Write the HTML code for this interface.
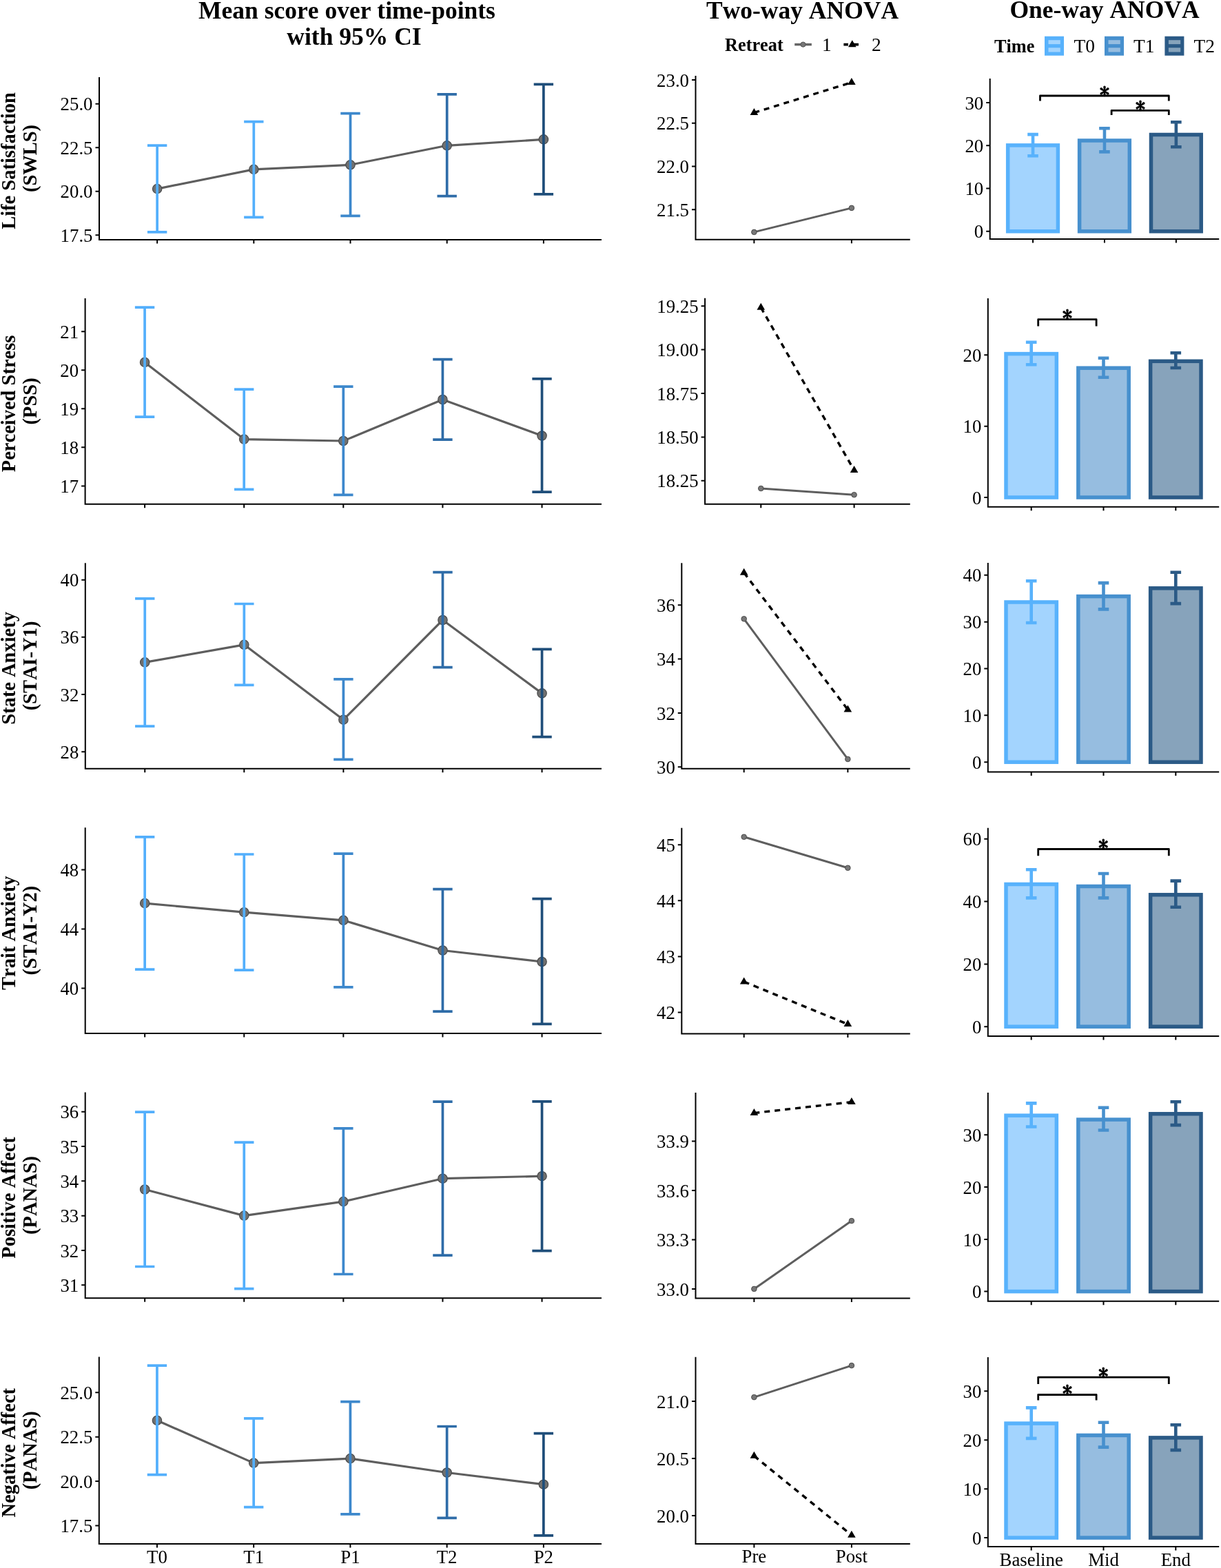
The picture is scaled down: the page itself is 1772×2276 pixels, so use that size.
<!DOCTYPE html>
<html><head><meta charset="utf-8"><title>Figure</title><style>
html,body{margin:0;padding:0;background:#fff;}
body{width:1772px;height:2276px;overflow:hidden;}
svg{display:block;}
text{font-family:"Liberation Serif","Times New Roman",serif;fill:#000;font-kerning:none;font-feature-settings:"kern" 0;}
.tk{font-size:26.8px;}
.hd{font-size:35.5px;font-weight:bold;}
.yt{font-size:28.5px;font-weight:bold;}
.lgt{font-size:26.3px;font-weight:bold;}
.lg{font-size:27.5px;}
.st{font-size:29px;font-weight:bold;font-family:IPAGothic,"Liberation Serif",serif;}
</style></head>
<body>
<svg width="1772" height="2276" viewBox="0 0 1772 2276">
<rect width="100%" height="100%" fill="#fff"/>
<text x="503.5" y="26.8" class="hd" text-anchor="middle">Mean score over time-points</text>
<text x="514" y="64.9" class="hd" text-anchor="middle">with 95% CI</text>
<text x="1164.5" y="26.7" class="hd" text-anchor="middle">Two-way ANOVA</text>
<text x="1603" y="26.3" class="hd" text-anchor="middle">One-way ANOVA</text>
<text x="1052" y="74.4" class="lgt">Retreat</text>
<path d="M1153.2 64.6H1177.9" stroke="#666" stroke-width="3.5"/>
<circle cx="1165.5" cy="64.6" r="3.6" fill="#777" stroke="#555" stroke-width="1"/>
<text x="1193" y="74.4" class="lg">1</text>
<path d="M1224.4 64.6H1231M1236 64.6H1246" stroke="#000" stroke-width="3.6"/>
<path d="M1236.8 58.2L1242.6 68.2H1231Z" fill="#000"/>
<text x="1265" y="74.4" class="lg">2</text>
<text x="1443" y="75.7" class="lgt">Time</text>
<rect x="1516" y="52.7" width="28" height="28" fill="#58B2FC"/>
<rect x="1521.5" y="58.2" width="17.3" height="5.9" fill="#A3D4FE"/>
<rect x="1521.5" y="69.3" width="17.3" height="6.2" fill="#A3D4FE"/>
<rect x="1603" y="52.7" width="28" height="28" fill="#4790CE"/>
<rect x="1608.5" y="58.2" width="17.3" height="5.9" fill="#96BDE0"/>
<rect x="1608.5" y="69.3" width="17.3" height="6.2" fill="#96BDE0"/>
<rect x="1690.4" y="52.7" width="28" height="28" fill="#2B5A86"/>
<rect x="1695.9" y="58.2" width="17.3" height="5.9" fill="#87A3BB"/>
<rect x="1695.9" y="69.3" width="17.3" height="6.2" fill="#87A3BB"/>
<text x="1558.5" y="76.2" class="lg">T0</text>
<text x="1645" y="76.2" class="lg">T1</text>
<text x="1732.5" y="76.2" class="lg">T2</text>
<path d="M144 112V348H873" fill="none" stroke="#000" stroke-width="2.0" stroke-linejoin="miter"/>
<path d="M138.5 150.7H144M138.5 214.2H144M138.5 277.7H144M138.5 341.2H144M228.12 348V353.5M368.31 348V353.5M508.5 348V353.5M648.69 348V353.5M788.88 348V353.5" stroke="#000" stroke-width="2.0"/>
<text x="134.5" y="160.3" class="tk" text-anchor="end">25.0</text>
<text x="134.5" y="223.8" class="tk" text-anchor="end">22.5</text>
<text x="134.5" y="287.3" class="tk" text-anchor="end">20.0</text>
<text x="134.5" y="350.8" class="tk" text-anchor="end">17.5</text>
<text transform="translate(22,233.5) rotate(-90)" class="yt" text-anchor="middle">Life Satisfaction</text>
<text transform="translate(52.5,230) rotate(-90)" class="yt" text-anchor="middle">(SWLS)</text>
<polyline points="228.12,274.1 368.31,245.9 508.5,239.3 648.69,211.3 788.88,202.4" fill="none" stroke="#5e5e5e" stroke-width="3.2" stroke-linejoin="round"/>
<circle cx="228.12" cy="274.1" r="6.7" fill="#707070" stroke="#4a4a4a" stroke-width="1.2"/>
<circle cx="368.31" cy="245.9" r="6.7" fill="#707070" stroke="#4a4a4a" stroke-width="1.2"/>
<circle cx="508.5" cy="239.3" r="6.7" fill="#707070" stroke="#4a4a4a" stroke-width="1.2"/>
<circle cx="648.69" cy="211.3" r="6.7" fill="#707070" stroke="#4a4a4a" stroke-width="1.2"/>
<circle cx="788.88" cy="202.4" r="6.7" fill="#707070" stroke="#4a4a4a" stroke-width="1.2"/>
<path d="M228.12 211.1V336.9M213.92 211.1H242.32M213.92 336.9H242.32" stroke="#53AFFC" stroke-width="3.7" fill="none"/>
<path d="M368.31 176.7V315.3M354.11 176.7H382.51M354.11 315.3H382.51" stroke="#53AFFC" stroke-width="3.7" fill="none"/>
<path d="M508.5 164.7V313.4M494.3 164.7H522.7M494.3 313.4H522.7" stroke="#3D88CC" stroke-width="3.7" fill="none"/>
<path d="M648.69 136.9V284.7M634.49 136.9H662.89M634.49 284.7H662.89" stroke="#2E6CA8" stroke-width="3.7" fill="none"/>
<path d="M788.88 122.4V281.9M774.68 122.4H803.08M774.68 281.9H803.08" stroke="#1F4E7A" stroke-width="3.7" fill="none"/>
<path d="M123.6 433V731.8H873" fill="none" stroke="#000" stroke-width="2.0" stroke-linejoin="miter"/>
<path d="M118.1 481.2H123.6M118.1 537.3H123.6M118.1 593.3H123.6M118.1 649.3H123.6M118.1 705.4H123.6M210.07 731.8V737.3M354.18 731.8V737.3M498.3 731.8V737.3M642.42 731.8V737.3M786.53 731.8V737.3" stroke="#000" stroke-width="2.0"/>
<text x="114.1" y="490.8" class="tk" text-anchor="end">21</text>
<text x="114.1" y="546.9" class="tk" text-anchor="end">20</text>
<text x="114.1" y="602.9" class="tk" text-anchor="end">19</text>
<text x="114.1" y="658.9" class="tk" text-anchor="end">18</text>
<text x="114.1" y="715" class="tk" text-anchor="end">17</text>
<text transform="translate(22,585.9) rotate(-90)" class="yt" text-anchor="middle">Perceived Stress</text>
<text transform="translate(52.5,582.4) rotate(-90)" class="yt" text-anchor="middle">(PSS)</text>
<polyline points="210.07,525.9 354.18,637.6 498.3,640 642.42,580 786.53,632.5" fill="none" stroke="#5e5e5e" stroke-width="3.2" stroke-linejoin="round"/>
<circle cx="210.07" cy="525.9" r="6.7" fill="#707070" stroke="#4a4a4a" stroke-width="1.2"/>
<circle cx="354.18" cy="637.6" r="6.7" fill="#707070" stroke="#4a4a4a" stroke-width="1.2"/>
<circle cx="498.3" cy="640" r="6.7" fill="#707070" stroke="#4a4a4a" stroke-width="1.2"/>
<circle cx="642.42" cy="580" r="6.7" fill="#707070" stroke="#4a4a4a" stroke-width="1.2"/>
<circle cx="786.53" cy="632.5" r="6.7" fill="#707070" stroke="#4a4a4a" stroke-width="1.2"/>
<path d="M210.07 446.1V605.2M195.87 446.1H224.27M195.87 605.2H224.27" stroke="#53AFFC" stroke-width="3.7" fill="none"/>
<path d="M354.18 565.2V710.4M339.98 565.2H368.38M339.98 710.4H368.38" stroke="#53AFFC" stroke-width="3.7" fill="none"/>
<path d="M498.3 561.2V718.4M484.1 561.2H512.5M484.1 718.4H512.5" stroke="#3D88CC" stroke-width="3.7" fill="none"/>
<path d="M642.42 521.6V638.1M628.22 521.6H656.62M628.22 638.1H656.62" stroke="#2E6CA8" stroke-width="3.7" fill="none"/>
<path d="M786.53 549.9V714.1M772.33 549.9H800.73M772.33 714.1H800.73" stroke="#1F4E7A" stroke-width="3.7" fill="none"/>
<path d="M123.8 817.2V1115.7H873" fill="none" stroke="#000" stroke-width="2.0" stroke-linejoin="miter"/>
<path d="M118.3 841.7H123.8M118.3 924.8H123.8M118.3 1007.9H123.8M118.3 1091.2H123.8M210.25 1115.7V1121.2M354.32 1115.7V1121.2M498.4 1115.7V1121.2M642.48 1115.7V1121.2M786.55 1115.7V1121.2" stroke="#000" stroke-width="2.0"/>
<text x="114.3" y="851.3" class="tk" text-anchor="end">40</text>
<text x="114.3" y="934.4" class="tk" text-anchor="end">36</text>
<text x="114.3" y="1017.5" class="tk" text-anchor="end">32</text>
<text x="114.3" y="1100.8" class="tk" text-anchor="end">28</text>
<text transform="translate(22,969.95) rotate(-90)" class="yt" text-anchor="middle">State Anxiety</text>
<text transform="translate(52.5,966.45) rotate(-90)" class="yt" text-anchor="middle">(STAI-Y1)</text>
<polyline points="210.25,961.4 354.32,935.8 498.4,1044.7 642.48,900 786.55,1006.4" fill="none" stroke="#5e5e5e" stroke-width="3.2" stroke-linejoin="round"/>
<circle cx="210.25" cy="961.4" r="6.7" fill="#707070" stroke="#4a4a4a" stroke-width="1.2"/>
<circle cx="354.32" cy="935.8" r="6.7" fill="#707070" stroke="#4a4a4a" stroke-width="1.2"/>
<circle cx="498.4" cy="1044.7" r="6.7" fill="#707070" stroke="#4a4a4a" stroke-width="1.2"/>
<circle cx="642.48" cy="900" r="6.7" fill="#707070" stroke="#4a4a4a" stroke-width="1.2"/>
<circle cx="786.55" cy="1006.4" r="6.7" fill="#707070" stroke="#4a4a4a" stroke-width="1.2"/>
<path d="M210.25 868.9V1054.1M196.05 868.9H224.45M196.05 1054.1H224.45" stroke="#53AFFC" stroke-width="3.7" fill="none"/>
<path d="M354.32 876.5V994.4M340.12 876.5H368.52M340.12 994.4H368.52" stroke="#53AFFC" stroke-width="3.7" fill="none"/>
<path d="M498.4 985.9V1102.4M484.2 985.9H512.6M484.2 1102.4H512.6" stroke="#3D88CC" stroke-width="3.7" fill="none"/>
<path d="M642.48 830.6V968.7M628.28 830.6H656.68M628.28 968.7H656.68" stroke="#2E6CA8" stroke-width="3.7" fill="none"/>
<path d="M786.55 942.4V1069.6M772.35 942.4H800.75M772.35 1069.6H800.75" stroke="#1F4E7A" stroke-width="3.7" fill="none"/>
<path d="M123.7 1201.3V1500.1H873" fill="none" stroke="#000" stroke-width="2.0" stroke-linejoin="miter"/>
<path d="M118.2 1262.6H123.7M118.2 1348.6H123.7M118.2 1434.4H123.7M210.16 1500.1V1505.6M354.25 1500.1V1505.6M498.35 1500.1V1505.6M642.45 1500.1V1505.6M786.54 1500.1V1505.6" stroke="#000" stroke-width="2.0"/>
<text x="114.2" y="1272.2" class="tk" text-anchor="end">48</text>
<text x="114.2" y="1358.2" class="tk" text-anchor="end">44</text>
<text x="114.2" y="1444" class="tk" text-anchor="end">40</text>
<text transform="translate(22,1354.2) rotate(-90)" class="yt" text-anchor="middle">Trait Anxiety</text>
<text transform="translate(52.5,1350.7) rotate(-90)" class="yt" text-anchor="middle">(STAI-Y2)</text>
<polyline points="210.16,1311.1 354.25,1324.2 498.35,1335.8 642.45,1379.5 786.54,1396" fill="none" stroke="#5e5e5e" stroke-width="3.2" stroke-linejoin="round"/>
<circle cx="210.16" cy="1311.1" r="6.7" fill="#707070" stroke="#4a4a4a" stroke-width="1.2"/>
<circle cx="354.25" cy="1324.2" r="6.7" fill="#707070" stroke="#4a4a4a" stroke-width="1.2"/>
<circle cx="498.35" cy="1335.8" r="6.7" fill="#707070" stroke="#4a4a4a" stroke-width="1.2"/>
<circle cx="642.45" cy="1379.5" r="6.7" fill="#707070" stroke="#4a4a4a" stroke-width="1.2"/>
<circle cx="786.54" cy="1396" r="6.7" fill="#707070" stroke="#4a4a4a" stroke-width="1.2"/>
<path d="M210.16 1214.8V1407.1M195.96 1214.8H224.36M195.96 1407.1H224.36" stroke="#53AFFC" stroke-width="3.7" fill="none"/>
<path d="M354.25 1240V1408.2M340.05 1240H368.45M340.05 1408.2H368.45" stroke="#53AFFC" stroke-width="3.7" fill="none"/>
<path d="M498.35 1239.1V1432.9M484.15 1239.1H512.55M484.15 1432.9H512.55" stroke="#3D88CC" stroke-width="3.7" fill="none"/>
<path d="M642.45 1290.6V1468.2M628.25 1290.6H656.65M628.25 1468.2H656.65" stroke="#2E6CA8" stroke-width="3.7" fill="none"/>
<path d="M786.54 1304.7V1486.4M772.34 1304.7H800.74M772.34 1486.4H800.74" stroke="#1F4E7A" stroke-width="3.7" fill="none"/>
<path d="M123.7 1585.6V1884.3H873" fill="none" stroke="#000" stroke-width="2.0" stroke-linejoin="miter"/>
<path d="M118.2 1613.7H123.7M118.2 1664H123.7M118.2 1714.3H123.7M118.2 1764.7H123.7M118.2 1815H123.7M118.2 1865.3H123.7M210.16 1884.3V1889.8M354.25 1884.3V1889.8M498.35 1884.3V1889.8M642.45 1884.3V1889.8M786.54 1884.3V1889.8" stroke="#000" stroke-width="2.0"/>
<text x="114.2" y="1623.3" class="tk" text-anchor="end">36</text>
<text x="114.2" y="1673.6" class="tk" text-anchor="end">35</text>
<text x="114.2" y="1723.9" class="tk" text-anchor="end">34</text>
<text x="114.2" y="1774.3" class="tk" text-anchor="end">33</text>
<text x="114.2" y="1824.6" class="tk" text-anchor="end">32</text>
<text x="114.2" y="1874.9" class="tk" text-anchor="end">31</text>
<text transform="translate(22,1738.45) rotate(-90)" class="yt" text-anchor="middle">Positive Affect</text>
<text transform="translate(52.5,1734.95) rotate(-90)" class="yt" text-anchor="middle">(PANAS)</text>
<polyline points="210.16,1726.5 354.25,1764.6 498.35,1744.1 642.45,1710.7 786.54,1707.2" fill="none" stroke="#5e5e5e" stroke-width="3.2" stroke-linejoin="round"/>
<circle cx="210.16" cy="1726.5" r="6.7" fill="#707070" stroke="#4a4a4a" stroke-width="1.2"/>
<circle cx="354.25" cy="1764.6" r="6.7" fill="#707070" stroke="#4a4a4a" stroke-width="1.2"/>
<circle cx="498.35" cy="1744.1" r="6.7" fill="#707070" stroke="#4a4a4a" stroke-width="1.2"/>
<circle cx="642.45" cy="1710.7" r="6.7" fill="#707070" stroke="#4a4a4a" stroke-width="1.2"/>
<circle cx="786.54" cy="1707.2" r="6.7" fill="#707070" stroke="#4a4a4a" stroke-width="1.2"/>
<path d="M210.16 1614.2V1838.5M195.96 1614.2H224.36M195.96 1838.5H224.36" stroke="#53AFFC" stroke-width="3.7" fill="none"/>
<path d="M354.25 1658.2V1870.7M340.05 1658.2H368.45M340.05 1870.7H368.45" stroke="#53AFFC" stroke-width="3.7" fill="none"/>
<path d="M498.35 1637.8V1849.5M484.15 1637.8H512.55M484.15 1849.5H512.55" stroke="#3D88CC" stroke-width="3.7" fill="none"/>
<path d="M642.45 1599.2V1822.2M628.25 1599.2H656.65M628.25 1822.2H656.65" stroke="#2E6CA8" stroke-width="3.7" fill="none"/>
<path d="M786.54 1598.9V1815.6M772.34 1598.9H800.74M772.34 1815.6H800.74" stroke="#1F4E7A" stroke-width="3.7" fill="none"/>
<path d="M143.8 1969.4V2241H873" fill="none" stroke="#000" stroke-width="2.0" stroke-linejoin="miter"/>
<path d="M138.3 2021.3H143.8M138.3 2085.7H143.8M138.3 2150.1H143.8M138.3 2214.5H143.8M227.94 2241V2246.5M368.17 2241V2246.5M508.4 2241V2246.5M648.63 2241V2246.5M788.86 2241V2246.5" stroke="#000" stroke-width="2.0"/>
<text x="134.3" y="2030.9" class="tk" text-anchor="end">25.0</text>
<text x="134.3" y="2095.3" class="tk" text-anchor="end">22.5</text>
<text x="134.3" y="2159.7" class="tk" text-anchor="end">20.0</text>
<text x="134.3" y="2224.1" class="tk" text-anchor="end">17.5</text>
<text transform="translate(22,2108.7) rotate(-90)" class="yt" text-anchor="middle">Negative Affect</text>
<text transform="translate(52.5,2105.2) rotate(-90)" class="yt" text-anchor="middle">(PANAS)</text>
<polyline points="227.94,2061.8 368.17,2123.6 508.4,2117.1 648.63,2137.5 788.86,2154.7" fill="none" stroke="#5e5e5e" stroke-width="3.2" stroke-linejoin="round"/>
<circle cx="227.94" cy="2061.8" r="6.7" fill="#707070" stroke="#4a4a4a" stroke-width="1.2"/>
<circle cx="368.17" cy="2123.6" r="6.7" fill="#707070" stroke="#4a4a4a" stroke-width="1.2"/>
<circle cx="508.4" cy="2117.1" r="6.7" fill="#707070" stroke="#4a4a4a" stroke-width="1.2"/>
<circle cx="648.63" cy="2137.5" r="6.7" fill="#707070" stroke="#4a4a4a" stroke-width="1.2"/>
<circle cx="788.86" cy="2154.7" r="6.7" fill="#707070" stroke="#4a4a4a" stroke-width="1.2"/>
<path d="M227.94 1982.2V2140.6M213.74 1982.2H242.14M213.74 2140.6H242.14" stroke="#53AFFC" stroke-width="3.7" fill="none"/>
<path d="M368.17 2058.9V2187.6M353.97 2058.9H382.37M353.97 2187.6H382.37" stroke="#53AFFC" stroke-width="3.7" fill="none"/>
<path d="M508.4 2034.7V2197.8M494.2 2034.7H522.6M494.2 2197.8H522.6" stroke="#3D88CC" stroke-width="3.7" fill="none"/>
<path d="M648.63 2070.5V2203.4M634.43 2070.5H662.83M634.43 2203.4H662.83" stroke="#2E6CA8" stroke-width="3.7" fill="none"/>
<path d="M788.86 2080.6V2228.8M774.66 2080.6H803.06M774.66 2228.8H803.06" stroke="#1F4E7A" stroke-width="3.7" fill="none"/>
<text x="227.94" y="2268.6" class="tk" text-anchor="middle">T0</text>
<text x="368.17" y="2268.6" class="tk" text-anchor="middle">T1</text>
<text x="508.4" y="2268.6" class="tk" text-anchor="middle">P1</text>
<text x="648.63" y="2268.6" class="tk" text-anchor="middle">T2</text>
<text x="788.86" y="2268.6" class="tk" text-anchor="middle">P2</text>
<path d="M1009.5 110V347.8H1320.8" fill="none" stroke="#000" stroke-width="2.0" stroke-linejoin="miter"/>
<path d="M1004 116.1H1009.5M1004 178.8H1009.5M1004 241.5H1009.5M1004 304.2H1009.5M1094.4 347.8V353.3M1235.9 347.8V353.3" stroke="#000" stroke-width="2.0"/>
<text x="1000" y="125.7" class="tk" text-anchor="end">23.0</text>
<text x="1000" y="188.4" class="tk" text-anchor="end">22.5</text>
<text x="1000" y="251.1" class="tk" text-anchor="end">22.0</text>
<text x="1000" y="313.8" class="tk" text-anchor="end">21.5</text>
<path d="M1094.4 336.9L1235.9 301.9" stroke="#5e5e5e" stroke-width="3"/>
<path d="M1094.4 163.6L1235.9 119.6" stroke="#000" stroke-width="3.4" stroke-dasharray="8 7"/>
<circle cx="1094.4" cy="336.9" r="3.8" fill="#777" stroke="#4a4a4a" stroke-width="1"/>
<circle cx="1235.9" cy="301.9" r="3.8" fill="#777" stroke="#4a4a4a" stroke-width="1"/>
<path d="M1094.4 157L1100.2 167H1088.6Z" fill="#000"/>
<path d="M1235.9 113L1241.7 123H1230.1Z" fill="#000"/>
<path d="M1023.1 432.8V731.8H1320.8" fill="none" stroke="#000" stroke-width="2.0" stroke-linejoin="miter"/>
<path d="M1017.6 444.2H1023.1M1017.6 507.6H1023.1M1017.6 571H1023.1M1017.6 634.4H1023.1M1017.6 697.8H1023.1M1104.29 731.8V737.3M1239.61 731.8V737.3" stroke="#000" stroke-width="2.0"/>
<text x="1013.6" y="453.8" class="tk" text-anchor="end">19.25</text>
<text x="1013.6" y="517.2" class="tk" text-anchor="end">19.00</text>
<text x="1013.6" y="580.6" class="tk" text-anchor="end">18.75</text>
<text x="1013.6" y="644" class="tk" text-anchor="end">18.50</text>
<text x="1013.6" y="707.4" class="tk" text-anchor="end">18.25</text>
<path d="M1104.29 709L1239.61 718.2" stroke="#5e5e5e" stroke-width="3"/>
<path d="M1104.29 446.4L1239.61 682.7" stroke="#000" stroke-width="3.4" stroke-dasharray="8 7"/>
<circle cx="1104.29" cy="709" r="3.8" fill="#777" stroke="#4a4a4a" stroke-width="1"/>
<circle cx="1239.61" cy="718.2" r="3.8" fill="#777" stroke="#4a4a4a" stroke-width="1"/>
<path d="M1104.29 439.8L1110.09 449.8H1098.49Z" fill="#000"/>
<path d="M1239.61 676.1L1245.41 686.1H1233.81Z" fill="#000"/>
<path d="M989.3 817.3V1115.7H1320.8" fill="none" stroke="#000" stroke-width="2.0" stroke-linejoin="miter"/>
<path d="M983.8 878.3H989.3M983.8 956.6H989.3M983.8 1034.9H989.3M983.8 1113.2H989.3M1079.71 1115.7V1121.2M1230.39 1115.7V1121.2" stroke="#000" stroke-width="2.0"/>
<text x="979.8" y="887.9" class="tk" text-anchor="end">36</text>
<text x="979.8" y="966.2" class="tk" text-anchor="end">34</text>
<text x="979.8" y="1044.5" class="tk" text-anchor="end">32</text>
<text x="979.8" y="1122.8" class="tk" text-anchor="end">30</text>
<path d="M1079.71 898.3L1230.39 1101.9" stroke="#5e5e5e" stroke-width="3"/>
<path d="M1079.71 831.3L1230.39 1030.1" stroke="#000" stroke-width="3.4" stroke-dasharray="8 7"/>
<circle cx="1079.71" cy="898.3" r="3.8" fill="#777" stroke="#4a4a4a" stroke-width="1"/>
<circle cx="1230.39" cy="1101.9" r="3.8" fill="#777" stroke="#4a4a4a" stroke-width="1"/>
<path d="M1079.71 824.7L1085.51 834.7H1073.91Z" fill="#000"/>
<path d="M1230.39 1023.5L1236.19 1033.5H1224.59Z" fill="#000"/>
<path d="M989.3 1201.7V1500.4H1320.8" fill="none" stroke="#000" stroke-width="2.0" stroke-linejoin="miter"/>
<path d="M983.8 1226.2H989.3M983.8 1307.3H989.3M983.8 1388.4H989.3M983.8 1469.5H989.3M1079.71 1500.4V1505.9M1230.39 1500.4V1505.9" stroke="#000" stroke-width="2.0"/>
<text x="979.8" y="1235.8" class="tk" text-anchor="end">45</text>
<text x="979.8" y="1316.9" class="tk" text-anchor="end">44</text>
<text x="979.8" y="1398" class="tk" text-anchor="end">43</text>
<text x="979.8" y="1479.1" class="tk" text-anchor="end">42</text>
<path d="M1079.71 1214.8L1230.39 1259.8" stroke="#5e5e5e" stroke-width="3"/>
<path d="M1079.71 1425L1230.39 1486.7" stroke="#000" stroke-width="3.4" stroke-dasharray="8 7"/>
<circle cx="1079.71" cy="1214.8" r="3.8" fill="#777" stroke="#4a4a4a" stroke-width="1"/>
<circle cx="1230.39" cy="1259.8" r="3.8" fill="#777" stroke="#4a4a4a" stroke-width="1"/>
<path d="M1079.71 1418.4L1085.51 1428.4H1073.91Z" fill="#000"/>
<path d="M1230.39 1480.1L1236.19 1490.1H1224.59Z" fill="#000"/>
<path d="M1009.5 1586V1884.5H1320.8" fill="none" stroke="#000" stroke-width="2.0" stroke-linejoin="miter"/>
<path d="M1004 1656.5H1009.5M1004 1728H1009.5M1004 1799.4H1009.5M1004 1870.9H1009.5M1094.4 1884.5V1890M1235.9 1884.5V1890" stroke="#000" stroke-width="2.0"/>
<text x="1000" y="1666.1" class="tk" text-anchor="end">33.9</text>
<text x="1000" y="1737.6" class="tk" text-anchor="end">33.6</text>
<text x="1000" y="1809" class="tk" text-anchor="end">33.3</text>
<text x="1000" y="1880.5" class="tk" text-anchor="end">33.0</text>
<path d="M1094.4 1870.9L1235.9 1772.1" stroke="#5e5e5e" stroke-width="3"/>
<path d="M1094.4 1615.6L1235.9 1599.6" stroke="#000" stroke-width="3.4" stroke-dasharray="8 7"/>
<circle cx="1094.4" cy="1870.9" r="3.8" fill="#777" stroke="#4a4a4a" stroke-width="1"/>
<circle cx="1235.9" cy="1772.1" r="3.8" fill="#777" stroke="#4a4a4a" stroke-width="1"/>
<path d="M1094.4 1609L1100.2 1619H1088.6Z" fill="#000"/>
<path d="M1235.9 1593L1241.7 1603H1230.1Z" fill="#000"/>
<path d="M1009.5 1969.8V2241H1320.8" fill="none" stroke="#000" stroke-width="2.0" stroke-linejoin="miter"/>
<path d="M1004 2034H1009.5M1004 2117H1009.5M1004 2200H1009.5M1094.4 2241V2246.5M1235.9 2241V2246.5" stroke="#000" stroke-width="2.0"/>
<text x="1000" y="2043.6" class="tk" text-anchor="end">21.0</text>
<text x="1000" y="2126.6" class="tk" text-anchor="end">20.5</text>
<text x="1000" y="2209.6" class="tk" text-anchor="end">20.0</text>
<path d="M1094.4 2028.1L1235.9 1982.1" stroke="#5e5e5e" stroke-width="3"/>
<path d="M1094.4 2113.4L1235.9 2228.3" stroke="#000" stroke-width="3.4" stroke-dasharray="8 7"/>
<circle cx="1094.4" cy="2028.1" r="3.8" fill="#777" stroke="#4a4a4a" stroke-width="1"/>
<circle cx="1235.9" cy="1982.1" r="3.8" fill="#777" stroke="#4a4a4a" stroke-width="1"/>
<path d="M1094.4 2106.8L1100.2 2116.8H1088.6Z" fill="#000"/>
<path d="M1235.9 2221.7L1241.7 2231.7H1230.1Z" fill="#000"/>
<text x="1094.4" y="2267.6" class="tk" text-anchor="middle">Pre</text>
<text x="1235.9" y="2267.6" class="tk" text-anchor="middle">Post</text>
<path d="M1436.7 114.1V346.9H1769.2" fill="none" stroke="#000" stroke-width="2.0" stroke-linejoin="miter"/>
<path d="M1431.2 149H1436.7M1431.2 211.3H1436.7M1431.2 273.6H1436.7M1431.2 335.8H1436.7M1499.04 346.9V352.4M1602.95 346.9V352.4M1706.86 346.9V352.4" stroke="#000" stroke-width="2.0"/>
<text x="1427.2" y="158.6" class="tk" text-anchor="end">30</text>
<text x="1427.2" y="220.9" class="tk" text-anchor="end">20</text>
<text x="1427.2" y="283.2" class="tk" text-anchor="end">10</text>
<text x="1427.2" y="345.4" class="tk" text-anchor="end">0</text>
<rect x="1462.68" y="210.9" width="72.73" height="124.9" fill="#A3D4FE" stroke="#58B2FC" stroke-width="5.5"/>
<rect x="1566.58" y="204" width="72.73" height="131.8" fill="#96BDE0" stroke="#4790CE" stroke-width="5.5"/>
<rect x="1670.49" y="195.5" width="72.73" height="140.3" fill="#87A3BB" stroke="#2B5A86" stroke-width="5.5"/>
<path d="M1499.04 195.1V226.3M1491.24 195.1H1506.84M1491.24 226.3H1506.84" stroke="#58B2FC" stroke-width="4.6" fill="none"/>
<path d="M1602.95 186.3V220.4M1595.15 186.3H1610.75M1595.15 220.4H1610.75" stroke="#4790CE" stroke-width="4.6" fill="none"/>
<path d="M1706.86 177.3V213.3M1699.06 177.3H1714.66M1699.06 213.3H1714.66" stroke="#2B5A86" stroke-width="4.6" fill="none"/>
<path d="M1509.5 146.5V139H1696.3V146.5" fill="none" stroke="#000" stroke-width="2.8" stroke-linejoin="round"/>
<text x="1602.9" y="142.5" class="st" text-anchor="middle">*</text>
<path d="M1613.1 167V160.3H1696.3V167" fill="none" stroke="#000" stroke-width="2.8" stroke-linejoin="round"/>
<text x="1655" y="163.8" class="st" text-anchor="middle">*</text>
<path d="M1433.8 433V735.7H1769.2" fill="none" stroke="#000" stroke-width="2.0" stroke-linejoin="miter"/>
<path d="M1428.3 515.3H1433.8M1428.3 618.65H1433.8M1428.3 722H1433.8M1496.69 735.7V741.2M1601.5 735.7V741.2M1706.31 735.7V741.2" stroke="#000" stroke-width="2.0"/>
<text x="1424.3" y="524.9" class="tk" text-anchor="end">20</text>
<text x="1424.3" y="628.25" class="tk" text-anchor="end">10</text>
<text x="1424.3" y="731.6" class="tk" text-anchor="end">0</text>
<rect x="1460" y="513.6" width="73.37" height="208.4" fill="#A3D4FE" stroke="#58B2FC" stroke-width="5.5"/>
<rect x="1564.82" y="534.2" width="73.37" height="187.8" fill="#96BDE0" stroke="#4790CE" stroke-width="5.5"/>
<rect x="1669.63" y="524.3" width="73.37" height="197.7" fill="#87A3BB" stroke="#2B5A86" stroke-width="5.5"/>
<path d="M1496.69 496.8V529.2M1488.89 496.8H1504.49M1488.89 529.2H1504.49" stroke="#58B2FC" stroke-width="4.6" fill="none"/>
<path d="M1601.5 519.8V547.7M1593.7 519.8H1609.3M1593.7 547.7H1609.3" stroke="#4790CE" stroke-width="4.6" fill="none"/>
<path d="M1706.31 512.2V534M1698.51 512.2H1714.11M1698.51 534H1714.11" stroke="#2B5A86" stroke-width="4.6" fill="none"/>
<path d="M1506.7 473.5V463.7H1591.1V473.5" fill="none" stroke="#000" stroke-width="2.8" stroke-linejoin="round"/>
<text x="1549" y="467.2" class="st" text-anchor="middle">*</text>
<path d="M1433.8 817V1120.4H1769.2" fill="none" stroke="#000" stroke-width="2.0" stroke-linejoin="miter"/>
<path d="M1428.3 834.8H1433.8M1428.3 902.65H1433.8M1428.3 970.5H1433.8M1428.3 1038.35H1433.8M1428.3 1106.2H1433.8M1496.69 1120.4V1125.9M1601.5 1120.4V1125.9M1706.31 1120.4V1125.9" stroke="#000" stroke-width="2.0"/>
<text x="1424.3" y="844.4" class="tk" text-anchor="end">40</text>
<text x="1424.3" y="912.25" class="tk" text-anchor="end">30</text>
<text x="1424.3" y="980.1" class="tk" text-anchor="end">20</text>
<text x="1424.3" y="1047.95" class="tk" text-anchor="end">10</text>
<text x="1424.3" y="1115.8" class="tk" text-anchor="end">0</text>
<rect x="1460" y="874" width="73.37" height="232.2" fill="#A3D4FE" stroke="#58B2FC" stroke-width="5.5"/>
<rect x="1564.82" y="865.6" width="73.37" height="240.6" fill="#96BDE0" stroke="#4790CE" stroke-width="5.5"/>
<rect x="1669.63" y="853.8" width="73.37" height="252.4" fill="#87A3BB" stroke="#2B5A86" stroke-width="5.5"/>
<path d="M1496.69 843.3V904M1488.89 843.3H1504.49M1488.89 904H1504.49" stroke="#58B2FC" stroke-width="4.6" fill="none"/>
<path d="M1601.5 846.1V884.4M1593.7 846.1H1609.3M1593.7 884.4H1609.3" stroke="#4790CE" stroke-width="4.6" fill="none"/>
<path d="M1706.31 830.7V876.1M1698.51 830.7H1714.11M1698.51 876.1H1714.11" stroke="#2B5A86" stroke-width="4.6" fill="none"/>
<path d="M1433.8 1201.8V1504H1769.2" fill="none" stroke="#000" stroke-width="2.0" stroke-linejoin="miter"/>
<path d="M1428.3 1217.8H1433.8M1428.3 1308.6H1433.8M1428.3 1399.4H1433.8M1428.3 1490.2H1433.8M1496.69 1504V1509.5M1601.5 1504V1509.5M1706.31 1504V1509.5" stroke="#000" stroke-width="2.0"/>
<text x="1424.3" y="1227.4" class="tk" text-anchor="end">60</text>
<text x="1424.3" y="1318.2" class="tk" text-anchor="end">40</text>
<text x="1424.3" y="1409" class="tk" text-anchor="end">20</text>
<text x="1424.3" y="1499.8" class="tk" text-anchor="end">0</text>
<rect x="1460" y="1283.5" width="73.37" height="206.7" fill="#A3D4FE" stroke="#58B2FC" stroke-width="5.5"/>
<rect x="1564.82" y="1286.5" width="73.37" height="203.7" fill="#96BDE0" stroke="#4790CE" stroke-width="5.5"/>
<rect x="1669.63" y="1298.8" width="73.37" height="191.4" fill="#87A3BB" stroke="#2B5A86" stroke-width="5.5"/>
<path d="M1496.69 1262.3V1303.4M1488.89 1262.3H1504.49M1488.89 1303.4H1504.49" stroke="#58B2FC" stroke-width="4.6" fill="none"/>
<path d="M1601.5 1268V1303.4M1593.7 1268H1609.3M1593.7 1303.4H1609.3" stroke="#4790CE" stroke-width="4.6" fill="none"/>
<path d="M1706.31 1278.6V1316.7M1698.51 1278.6H1714.11M1698.51 1316.7H1714.11" stroke="#2B5A86" stroke-width="4.6" fill="none"/>
<path d="M1506.7 1242.3V1232.5H1696.3V1242.3" fill="none" stroke="#000" stroke-width="2.8" stroke-linejoin="round"/>
<text x="1601.3" y="1236" class="st" text-anchor="middle">*</text>
<path d="M1433.8 1586.1V1888.8H1769.2" fill="none" stroke="#000" stroke-width="2.0" stroke-linejoin="miter"/>
<path d="M1428.3 1647.3H1433.8M1428.3 1723.1H1433.8M1428.3 1798.9H1433.8M1428.3 1874.6H1433.8M1496.69 1888.8V1894.3M1601.5 1888.8V1894.3M1706.31 1888.8V1894.3" stroke="#000" stroke-width="2.0"/>
<text x="1424.3" y="1656.9" class="tk" text-anchor="end">30</text>
<text x="1424.3" y="1732.7" class="tk" text-anchor="end">20</text>
<text x="1424.3" y="1808.5" class="tk" text-anchor="end">10</text>
<text x="1424.3" y="1884.2" class="tk" text-anchor="end">0</text>
<rect x="1460" y="1619.2" width="73.37" height="255.4" fill="#A3D4FE" stroke="#58B2FC" stroke-width="5.5"/>
<rect x="1564.82" y="1625.1" width="73.37" height="249.5" fill="#96BDE0" stroke="#4790CE" stroke-width="5.5"/>
<rect x="1669.63" y="1616.8" width="73.37" height="257.8" fill="#87A3BB" stroke="#2B5A86" stroke-width="5.5"/>
<path d="M1496.69 1601.4V1635.5M1488.89 1601.4H1504.49M1488.89 1635.5H1504.49" stroke="#58B2FC" stroke-width="4.6" fill="none"/>
<path d="M1601.5 1607.8V1640.5M1593.7 1607.8H1609.3M1593.7 1640.5H1609.3" stroke="#4790CE" stroke-width="4.6" fill="none"/>
<path d="M1706.31 1599.3V1633.1M1698.51 1599.3H1714.11M1698.51 1633.1H1714.11" stroke="#2B5A86" stroke-width="4.6" fill="none"/>
<path d="M1433.8 1970.1V2244.9H1769.2" fill="none" stroke="#000" stroke-width="2.0" stroke-linejoin="miter"/>
<path d="M1428.3 2019.3H1433.8M1428.3 2090.2H1433.8M1428.3 2161.2H1433.8M1428.3 2232.1H1433.8M1496.69 2244.9V2250.4M1601.5 2244.9V2250.4M1706.31 2244.9V2250.4" stroke="#000" stroke-width="2.0"/>
<text x="1424.3" y="2028.9" class="tk" text-anchor="end">30</text>
<text x="1424.3" y="2099.8" class="tk" text-anchor="end">20</text>
<text x="1424.3" y="2170.8" class="tk" text-anchor="end">10</text>
<text x="1424.3" y="2241.7" class="tk" text-anchor="end">0</text>
<rect x="1460" y="2066.1" width="73.37" height="166" fill="#A3D4FE" stroke="#58B2FC" stroke-width="5.5"/>
<rect x="1564.82" y="2083.4" width="73.37" height="148.7" fill="#96BDE0" stroke="#4790CE" stroke-width="5.5"/>
<rect x="1669.63" y="2086.9" width="73.37" height="145.2" fill="#87A3BB" stroke="#2B5A86" stroke-width="5.5"/>
<path d="M1496.69 2043.4V2087.9M1488.89 2043.4H1504.49M1488.89 2087.9H1504.49" stroke="#58B2FC" stroke-width="4.6" fill="none"/>
<path d="M1601.5 2064.7V2100.6M1593.7 2064.7H1609.3M1593.7 2100.6H1609.3" stroke="#4790CE" stroke-width="4.6" fill="none"/>
<path d="M1706.31 2068.2V2104.9M1698.51 2068.2H1714.11M1698.51 2104.9H1714.11" stroke="#2B5A86" stroke-width="4.6" fill="none"/>
<path d="M1506.7 2009V1999.2H1696.3V2009" fill="none" stroke="#000" stroke-width="2.8" stroke-linejoin="round"/>
<text x="1601.3" y="2002.7" class="st" text-anchor="middle">*</text>
<path d="M1506.7 2032.5V2024.5H1591.1V2032.5" fill="none" stroke="#000" stroke-width="2.8" stroke-linejoin="round"/>
<text x="1549" y="2028" class="st" text-anchor="middle">*</text>
<text x="1496.69" y="2272.8" class="tk" text-anchor="middle">Baseline</text>
<text x="1601.5" y="2272.8" class="tk" text-anchor="middle">Mid</text>
<text x="1706.31" y="2272.8" class="tk" text-anchor="middle">End</text>
</svg>
</body></html>
